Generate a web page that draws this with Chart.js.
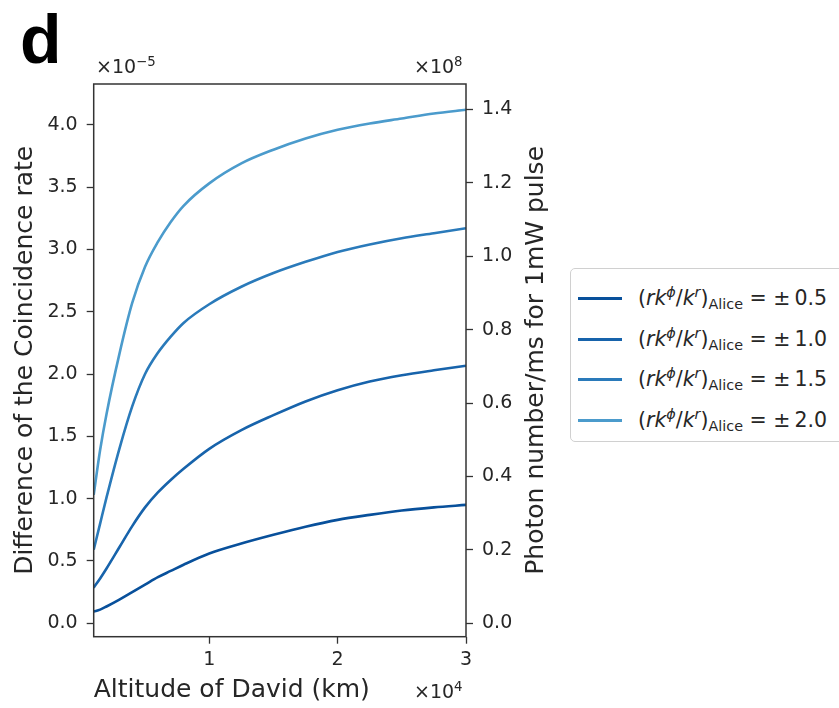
<!DOCTYPE html>
<html>
<head>
<meta charset="utf-8">
<script src="https://cdn.jsdelivr.net/npm/chart.js@4/dist/chart.umd.min.js"></script>
<style>
  html, body { margin:0; padding:0; background:#fff; }
  #wrap { position:relative; width:839px; height:708px; overflow:hidden; font-family:"DejaVu Sans", sans-serif; color:#262626; }
  #c { position:absolute; left:0; top:0; }
  .txt { position:absolute; white-space:nowrap; }
  .sup { font-size:70%; vertical-align:0.55em; line-height:0; }
  .sub { font-size:70%; vertical-align:-0.3em; line-height:0; }
  #panel { position:absolute; left:20px; top:5px; font-family:"Liberation Sans", Arial, sans-serif; font-weight:bold; font-size:68px; line-height:68px; color:#000; }
  #legend { position:absolute; left:570px; top:268px; width:290px; height:172px; border:1px solid #d0d0d0; border-radius:5px; background:#fff; }
  .row { position:absolute; left:0; height:30px; font-size:20.5px; line-height:30px; }
  .swatch { position:absolute; left:7px; top:14px; width:44px; height:3px; }
  .lab { position:absolute; left:67px; top:0; white-space:nowrap; }
</style>
</head>
<body>
<div id="wrap">
  <canvas id="c" width="839" height="708"></canvas>
  <div id="panel">d</div>
  <div class="txt" style="left:96px; top:55px; font-size:19px;">×10<span class="sup">−5</span></div>
  <div class="txt" style="left:414px; top:55px; font-size:19px;">×10<span class="sup">8</span></div>
  <div class="txt" style="left:414px; top:680px; font-size:19px;">×10<span class="sup">4</span></div>
  <div id="legend"></div>
</div>
<script>
// ---- data (altitude in units of 1e4 km, difference in units of 1e-5) ----
const altitude = [0.1, 0.15, 0.2, 0.3, 0.4, 0.5, 0.6, 0.7, 0.8, 1.0, 1.25, 1.5, 1.75, 2.0, 2.25, 2.5, 2.75, 3.0];
const diff05 = [0.095, 0.11, 0.135, 0.19, 0.25, 0.31, 0.37, 0.42, 0.47, 0.56, 0.64, 0.71, 0.775, 0.83, 0.87, 0.905, 0.93, 0.95];
const diff10 = [0.286, 0.36, 0.44, 0.61, 0.78, 0.93, 1.05, 1.15, 1.24, 1.40, 1.55, 1.67, 1.78, 1.87, 1.94, 1.99, 2.03, 2.067];
const diff15 = [0.59, 0.80, 1.01, 1.40, 1.74, 2.00, 2.17, 2.30, 2.41, 2.56, 2.70, 2.81, 2.90, 2.98, 3.04, 3.09, 3.13, 3.17];
const diff20 = [1.03, 1.39, 1.68, 2.16, 2.57, 2.86, 3.06, 3.22, 3.35, 3.53, 3.69, 3.80, 3.89, 3.96, 4.01, 4.05, 4.09, 4.12];
const ratioLabels = ["±0.5", "±1.0", "±1.5", "±2.0"];
const seriesColors = ["#08509b", "#1763ab", "#2a7aba", "#4b9bcc"];
const leftTicks = [0, 0.5, 1.0, 1.5, 2.0, 2.5, 3.0, 3.5, 4.0];
const rightTicks = [0, 0.2, 0.4, 0.6, 0.8, 1.0, 1.2, 1.4];
const xTicks = [1, 2, 3];
const rightTitle = 'Photon number/ms for 1mW pulse';

const seriesValues = [diff05, diff10, diff15, diff20];

// legend (HTML)
const legend = document.getElementById('legend');
ratioLabels.forEach((lab, i) => {
  const row = document.createElement('div');
  row.className = 'row';
  row.style.top = (14 + i * 40.5) + 'px';
  row.innerHTML = '<div class="swatch" style="background:' + seriesColors[i] + '"></div>' +
    '<div class="lab">(<i>rk</i><span class="sup"><i>ϕ</i></span>/<i>k</i><span class="sup"><i>r</i></span>)<span class="sub">Alice</span> = ' + lab.replace('±', '±\u2009') + '</div>';
  legend.appendChild(row);
});

const frame = {
  id: 'frame',
  afterDatasetsDraw(chart) {
    const {ctx, chartArea: a} = chart;
    ctx.save();
    ctx.strokeStyle = '#333';
    ctx.lineWidth = 1.5;
    ctx.strokeRect(a.left, a.top, a.right - a.left, a.bottom - a.top);
    ctx.restore();
  },
  afterDraw(chart) {
    // right-axis title reads bottom-to-top, like the left one
    const {ctx, chartArea: a} = chart;
    ctx.save();
    ctx.translate(536, (a.top + a.bottom) / 2);
    ctx.rotate(-Math.PI / 2);
    ctx.font = '25px "DejaVu Sans"';
    ctx.fillStyle = '#262626';
    ctx.textAlign = 'center';
    ctx.textBaseline = 'middle';
    ctx.fillText(rightTitle, 0, 0);
    ctx.restore();
  }
};

const tickFont = {family: 'DejaVu Sans', size: 19};
const titleFont = {family: 'DejaVu Sans', size: 25};
const gridOpts = {display: true, drawOnChartArea: false, drawTicks: true, tickLength: 7, tickColor: '#333', tickWidth: 1.3};

new Chart(document.getElementById('c'), {
  type: 'line',
  data: {
    datasets: seriesValues.map((vals, i) => ({
      label: ratioLabels[i],
      data: altitude.map((x, j) => ({x: x, y: vals[j]})),
      borderColor: seriesColors[i],
      borderWidth: 2.6,
      pointRadius: 0,
      fill: false,
      cubicInterpolationMode: 'monotone',
      yAxisID: 'y'
    }))
  },
  options: {
    responsive: false,
    animation: false,
    layout: {padding: {left: 0, top: 84, right: 273, bottom: 0}},
    plugins: {legend: {display: false}, tooltip: {enabled: false}},
    scales: {
      x: {
        type: 'linear', position: 'bottom', min: 0.1, max: 3.0,
        afterBuildTicks: s => { s.ticks = xTicks.map(v => ({value: v})); },
        afterFit: s => { s.height = 71.3; },
        ticks: {font: tickFont, color: '#262626', padding: 5, maxRotation: 0, callback: v => String(v)},
        grid: gridOpts,
        border: {display: false},
        title: {display: true, text: 'Altitude of David (km)', align: 'start', font: titleFont, color: '#262626', padding: {top: 0, bottom: 3}}
      },
      y: {
        type: 'linear', position: 'left', min: -0.1075, max: 4.327,
        afterBuildTicks: s => { s.ticks = leftTicks.map(v => ({value: v})); },
        afterFit: s => { s.width = 93.7; },
        ticks: {font: tickFont, color: '#262626', padding: 9, callback: v => v.toFixed(1)},
        grid: gridOpts,
        border: {display: false},
        title: {display: true, text: 'Difference of the Coincidence rate', font: titleFont, color: '#262626', padding: {top: 10, bottom: 0}}
      },
      y2: {
        type: 'linear', position: 'right', display: true, min: -0.0365, max: 1.469,
        afterBuildTicks: s => { s.ticks = rightTicks.map(v => ({value: v})); },
        afterFit: s => { s.width = 100; },
        ticks: {font: tickFont, color: '#262626', padding: 9, callback: v => v.toFixed(1)},
        grid: gridOpts,
        border: {display: false},
        title: {display: false}
      }
    }
  },
  plugins: [frame]
});
</script>
</body>
</html>
